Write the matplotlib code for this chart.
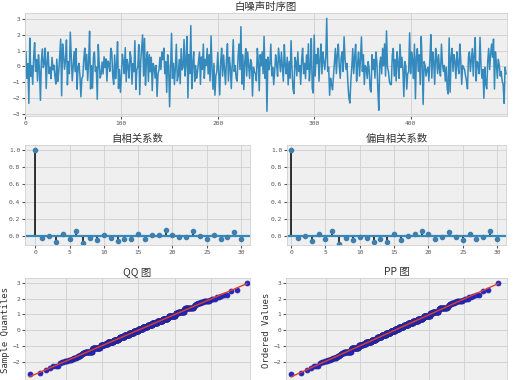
import matplotlib
matplotlib.use("Agg")
import matplotlib.pyplot as plt
import numpy as np
from statistics import NormalDist

# 白噪声序列
noise = [
    -0.47, 0.93, -0.74, 0.18, -2.31, 1.78, -0.61, 0.05, -1.12, 0.58, 1.49, -0.30, 0.44, -0.91, 0.73, -0.19, -2.12, 0.32, 1.10, -0.07,
    0.20, 1.15, -1.38, 0.29, 0.90, -0.44, -0.05, -0.76, 0.57, -0.21, 0.08, -0.60, -1.10, 0.46, -0.93, -0.33, 0.75, 1.71, -1.83, 1.41,
    0.72, -0.17, 0.43, 1.66, -1.15, 0.30, -0.45, 2.15, 0.60, -0.90, 0.07, 0.94, -0.32, 1.12, -1.42, -0.06, 0.20, -0.58, -1.90, -0.73,
    -0.62, 0.47, 1.15, -0.20, 0.76, -0.88, 0.33, 2.21, -1.41, 0.05, -1.36, 0.59, 0.90, -0.31, -0.04, -2.05, 1.38, 0.17, -0.72, -0.46,
    0.28, -0.47, 0.61, -0.07, 0.48, -0.92, 0.34, 0.19, -0.30, 1.14, 0.90, -0.58, -1.12, 0.72, -0.76, 0.06, 1.55, -1.38, -0.18, -1.62,
    -0.61, 0.77, 0.30, -0.45, 1.18, -0.94, 0.44, 0.04, -0.73, 0.92, 0.57, -1.11, 0.18, -0.32, 1.62, -1.44, -0.20, -0.05, 1.37, -1.76,
    0.31, 1.10, 1.98, -0.60, 1.76, -1.17, 0.45, 0.92, -0.93, 0.74, -0.33, 0.58, -1.51, 0.19, -0.06, -0.72, 0.07, -1.87, -0.44, -0.21,
    0.58, -0.19, 0.91, 0.43, 1.15, -0.45, 0.30, -1.62, 0.73, 0.06, -2.52, -0.31, 2.08, -0.74, 0.20, -1.13, -0.05, 1.39, -0.91, -0.59,
    0.44, -1.08, 1.12, -0.21, -0.04, 1.69, -0.60, 0.31, 1.88, -1.97, 0.75, -0.44, 2.56, -1.39, 0.18, 0.92, -0.93, 0.06, -0.73, -0.30,
    0.33, 0.90, -1.12, 0.60, -0.18, 1.40, -0.74, 0.45, 0.07, 1.13, -0.47, 0.74, -0.91, 1.91, -0.06, -1.43, 0.19, -1.80, -0.58, -0.31,
    0.88, -0.46, -1.78, 0.31, 1.14, -0.60, 0.72, -0.20, -1.13, 0.45, 1.42, -0.91, 0.58, -0.05, -1.38, 0.18, 1.68, -0.31, 0.06, -0.74,
    -0.92, 0.58, 1.41, -0.19, 2.49, -1.10, 0.73, -1.44, 0.30, 1.12, -0.60, 0.91, 0.06, -0.75, 0.44, 0.19, -1.85, -0.05, -0.32, -0.46,
    -0.90, 1.13, 0.31, -1.52, 0.74, 0.05, 0.92, -0.45, 1.88, -0.74, 0.45, -2.81, 0.59, -0.20, 0.19, 1.40, -0.58, -0.06, -1.14, -0.31,
    0.73, 0.17, -0.61, 1.15, 0.43, -0.33, 0.90, -0.04, -0.92, 1.37, 0.06, -0.46, 0.58, -1.15, 0.30, -0.73, 1.62, -0.19, -1.41, -1.70,
    0.57, 0.29, -0.59, 0.91, -0.31, 0.06, -1.12, 0.46, 1.14, -0.45, 0.20, -0.76, 0.72, -0.18, 1.42, -0.90, -0.07, 1.75, -1.38, -1.66,
    1.97, -0.60, 0.74, 0.18, 1.14, -0.92, 0.45, 1.41, -0.46, 0.91, 0.30, -0.19, 0.58, 3.02, -0.31, -0.05, -1.80, -0.73, -1.13, -1.46,
    -0.60, 0.31, 1.13, -0.45, 0.74, 1.40, 0.06, -0.74, 0.58, 0.92, -0.31, 1.86, 0.44, -0.19, 0.19, -1.12, -1.98, -2.29, -0.91, -0.05,
    1.12, -0.44, 0.59, 1.39, -0.92, 0.18, 0.90, -0.60, 0.45, 1.85, -0.31, 0.73, -1.13, 0.06, -0.05, -0.75, 0.30, -0.19, -1.42, -1.60,
    0.74, -0.19, 0.45, -0.73, 0.90, 0.31, -1.40, -2.74, 0.18, 0.59, -0.46, 1.14, 0.05, 1.41, -0.60, 2.23, -0.05, -0.31, -0.92, -1.13,
    -1.13, 0.73, 1.13, -0.60, 0.44, -0.91, 0.92, 0.18, -0.74, 1.39, -0.06, 0.58, -0.19, -1.88, 0.31, 0.05, -1.42, -0.45, -0.31, 2.11,
    -0.45, 0.91, 0.44, -0.75, 1.40, -2.02, 0.59, 1.12, -0.31, 0.73, -1.13, 1.88, 0.19, -2.38, 0.30, 0.06, -0.60, -0.18, -0.05, -0.92,
    0.45, 1.99, -0.73, 0.91, 0.30, -1.12, 1.13, 0.58, -0.44, 0.74, -0.18, -0.60, 1.40, 0.19, -0.31, 0.06, -0.92, -0.05, -1.41, -1.72,
    1.79, -1.61, 0.59, 1.13, -0.31, 0.74, 0.30, -0.75, 0.92, 0.18, -0.45, 1.41, 0.44, -1.12, 0.06, -0.06, -0.19, -0.60, -0.91, -1.40,
    0.59, 0.91, -0.31, 0.44, 1.12, -0.60, 0.74, 1.81, -0.91, 0.30, 0.19, -0.45, 1.83, 0.06, -0.73, -0.18, -1.99, -0.05, -1.13, -1.40,
    0.31, 1.13, -0.19, 0.73, 1.40, 0.58, 1.72, -1.41, 0.92, 0.18, -0.74, 0.45, 0.06, -0.60, -0.31, -0.92, -1.13, -2.31, -0.05, -0.45,
]

# 自相关系数 / 偏自相关系数（滞后 0-30，从图中估读）
lags = list(range(31))
acf_vals = [1.0, -0.02, -0.005, -0.065, 0.027, -0.035, 0.062, -0.085, -0.02, -0.045, 0.01,
            -0.025, -0.055, -0.03, -0.04, 0.027, -0.03, 0.01, 0.015, 0.072, 0.015,
            -0.015, -0.015, 0.062, -0.005, -0.03, 0.01, -0.038, -0.008, 0.05, -0.032]
pacf_vals = [1.0, -0.02, -0.005, -0.062, 0.027, -0.04, 0.058, -0.09, -0.025, -0.045, -0.01,
             -0.02, -0.068, -0.03, -0.065, 0.02, -0.045, 0.0, 0.02, 0.058, 0.02,
             -0.035, -0.01, 0.045, -0.015, -0.045, 0.02, -0.04, -0.015, 0.055, -0.03]

plt.style.use('bmh')
plt.rcParams['font.family'] = ['DejaVu Sans Mono', 'Noto Sans CJK SC']
plt.rcParams['axes.facecolor'] = '#efefef'
plt.rcParams['axes.edgecolor'] = '#d0d0d0'
plt.rcParams['grid.color'] = '#cfcfcf'
plt.rcParams['grid.linestyle'] = '-'
plt.rcParams['grid.linewidth'] = 0.6

W, H = 528, 380
fig = plt.figure(figsize=(W / 100, H / 100), dpi=100)


def box(l, t, r, b):
    return [l / W, (H - b) / H, (r - l) / W, (b - t) / H]


def style(ax):
    ax.tick_params(labelsize=4.5, length=2, direction='out', colors='#555555', pad=1.5)
    for s in ax.spines.values():
        s.set_linewidth(0.6)


title_font = {'family': ['Noto Sans CJK SC', 'DejaVu Sans'], 'size': 7.5, 'color': '#333333'}

# 时序图
ax1 = fig.add_axes(box(25, 13, 507, 116))
ax1.plot(range(len(noise)), noise, color='#348ABD', lw=1.1)
ax1.set_xlim(0, 500)
ax1.set_ylim(-3.1, 3.35)
ax1.set_yticks([-3, -2, -1, 0, 1, 2, 3])
ax1.set_xticks([0, 100, 200, 300, 400])
ax1.set_title('白噪声时序图', fontdict=title_font, pad=2)
style(ax1)


def corr_plot(ax, vals, title, xlo):
    ax.vlines(lags, 0, vals, colors='black', lw=1.1)
    ax.axhline(0, color='#348ABD', lw=1.6)
    ax.plot(lags, vals, 'o', color='#3f7fae', ms=3)
    ax.set_xlim(xlo, 31.3)
    ax.set_ylim(-0.105, 1.058)
    ax.set_xticks([0, 5, 10, 15, 20, 25, 30])
    ax.set_yticks([0.0, 0.2, 0.4, 0.6, 0.8, 1.0])
    ax.set_title(title, fontdict=title_font, pad=2)
    style(ax)


ax2 = fig.add_axes(box(25, 145, 250, 245))
corr_plot(ax2, acf_vals, '自相关系数', -1.5)
ax3 = fig.add_axes(box(287, 145, 506, 245))
corr_plot(ax3, pacf_vals, '偏自相关系数', -0.6)

# QQ / PP 图
data = np.sort(np.array(noise))
n = len(data)
m = (np.arange(1, n + 1) - 0.3175) / (n + 0.365)
m[0] = 1 - 0.5 ** (1 / n)
m[-1] = 0.5 ** (1 / n)
osm = np.array([NormalDist().inv_cdf(p) for p in m])
slope, intercept = np.polyfit(osm, data, 1)


def prob_plot(ax, title, ylabel, xlim):
    ax.plot(osm, data, 'o', color='#2323d2', mec='#23239a', ms=3.5, mew=0.6)
    ax.plot(osm, slope * osm + intercept, '-', color='#e0402a', lw=1)
    ax.set_xlim(*xlim)
    ax.set_ylim(-3.3, 3.32)
    ax.set_yticks([-2, -1, 0, 1, 2, 3])
    ax.set_xticks([-2, -1, 0, 1, 2])
    ax.set_title(title, fontdict=title_font, pad=2)
    ax.set_ylabel(ylabel, fontsize=6.5, family='DejaVu Sans Mono', color='#333333', labelpad=2)
    style(ax)
    ax.tick_params(labelbottom=False)


ax4 = fig.add_axes(box(25, 278, 250, 382))
prob_plot(ax4, 'QQ 图', 'Sample Quantiles', (-3.12, 3.08))
ax5 = fig.add_axes(box(286, 278, 507, 382))
prob_plot(ax5, 'PP 图', 'Ordered Values', (-3.15, 3.25))

fig.savefig('out.png', dpi=100)
